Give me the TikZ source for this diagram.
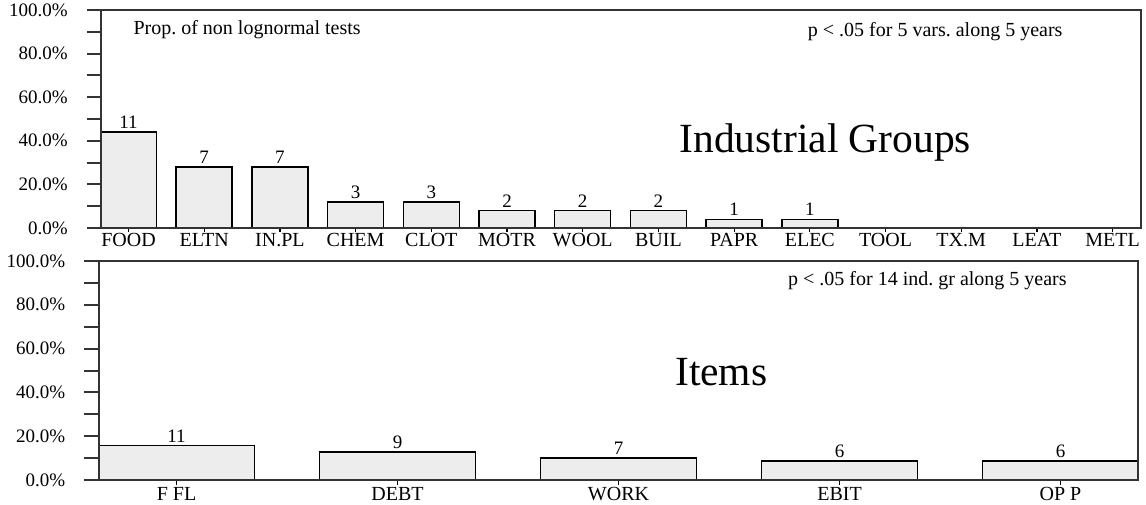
\documentclass[tikz,border=0pt]{standalone}
\usepackage{fontspec}
\setmainfont{Liberation Serif}
\frenchspacing
\begin{document}
\begin{tikzpicture}[x=1pt, y=-1pt,
  axisline/.style={draw=black!80, line width=2pt},
  barbox/.style={draw=black, line width=1.5pt, fill=black!7},
  lab/.style={font=\fontsize{20}{24}\selectfont, inner sep=0pt},
  numlab/.style={font=\fontsize{19}{23}\selectfont, inner sep=0pt},
  bigtext/.style={font=\fontsize{41.5}{48}\selectfont, inner sep=0pt}]
\useasboundingbox (0,0) rectangle (1146,505);
% top chart: industrial groups, 25 tests each
\foreach \p in {0,10,...,100}
  \draw[axisline] (87,{228-2.18*\p}) -- (100.5,{228-2.18*\p});
\foreach \p [count=\k] in {0,20,...,100}
  \node[numlab, anchor=east] (ta\k) at (68,{228-2.18*\p}) {\p.0\%};
\foreach \v/\n [count=\i from 0] in {11/FOOD,7/ELTN,7/IN.PL,3/CHEM,3/CLOT,
    2/MOTR,2/WOOL,2/BUIL,1/PAPR,1/ELEC,0/TOOL,0/TX.M,0/LEAT,0/METL} {
  \pgfmathsetmacro\xl{100.5+75.7*\i}
  \pgfmathsetmacro\yt{228-218*\v/25}
  \ifnum\v>0
    \draw[barbox] (\xl,228) rectangle ({\xl+56},\yt);
    \node[numlab, anchor=base] (gv\i) at ({\xl+28},{\yt-3.5}) {\v};
  \fi
  \draw[line width=1.2pt] ({\xl+28},228) -- ({\xl+28},232);
  \node[lab, anchor=base] (gn\i) at ({\xl+28},246.5) {\n};
}
\draw[axisline] (100.5,10) rectangle (1141,228);
\node[lab, anchor=base west] (tnote) at (133.3,35) {Prop. of non lognormal tests};
\node[lab, anchor=base west] (tp) at (807.7,36.5) {p < .05 for 5 vars. along 5 years};
\node[bigtext, anchor=base west] (tname) at (679.3,152.7) {Industrial Groups};
% bottom chart: items, 70 tests each
\foreach \p in {0,10,...,100}
  \draw[axisline] (84,{480-2.19*\p}) -- (98.5,{480-2.19*\p});
\foreach \p [count=\k] in {0,20,...,100}
  \node[numlab, anchor=east] (ba\k) at (65.3,{480-2.19*\p}) {\p.0\%};
\foreach \v/\n [count=\i from 0] in {11/F FL,9/DEBT,7/WORK,6/EBIT,6/OP P} {
  \pgfmathsetmacro\xl{98.5+221*\i}
  \pgfmathsetmacro\yt{480-219*\v/70}
  \draw[barbox] (\xl,480) rectangle ({\xl+156},\yt);
  \node[numlab, anchor=base] (iv\i) at ({\xl+78},{\yt-3.5}) {\v};
  \draw[line width=1.2pt] ({\xl+78},480) -- ({\xl+78},485);
  \node[lab, anchor=base] (in\i) at ({\xl+78},500) {\n};
}
\draw[axisline] (98.5,261) rectangle (1138,480);
\node[lab, anchor=base west] (bp) at (788,285) {p < .05 for 14 ind. gr along 5 years};
\node[bigtext, anchor=base west] (bname) at (675,385) {Items};
\end{tikzpicture}
\end{document}
